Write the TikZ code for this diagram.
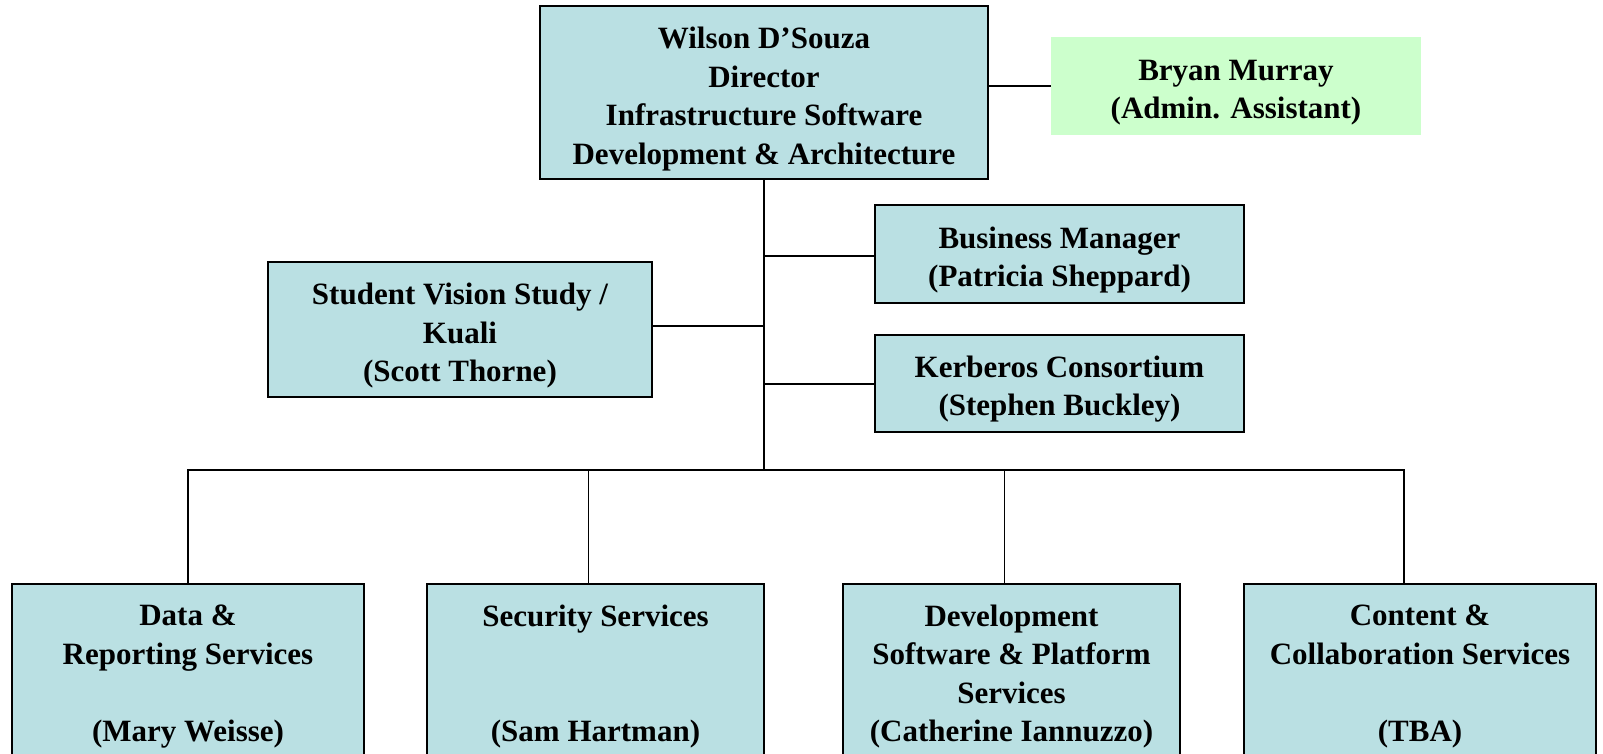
\documentclass[tikz,border=0pt]{standalone}
\usepackage{fontspec}
\setmainfont{Liberation Serif}
\definecolor{boxblue}{RGB}{186,224,227}
\definecolor{boxgreen}{RGB}{204,255,204}
\begin{document}
\begin{tikzpicture}[x=1pt,y=-1pt,
  every node/.style={inner sep=0pt, outer sep=0pt},
  orgbox/.style={draw=black, line width=2pt, fill=boxblue, anchor=north west},
  greenbox/.style={fill=boxgreen, anchor=north west},
  boxtext/.style={font=\fontsize{31}{38.5}\selectfont\bfseries, align=center},
  conn/.style={line width=2pt, draw=black},
  drop/.style={line width=1.6pt, draw=black}]
\useasboundingbox (0,0) rectangle (1603,754);
\clip (0,0) rectangle (1603,754);
% boxes
\node[orgbox, minimum width=448pt, minimum height=173pt] (dir) at (540,6) {};
\node[greenbox, minimum width=370pt, minimum height=98pt] (bryan) at (1051,37) {};
\node[orgbox, minimum width=369pt, minimum height=98pt] (bm) at (875,205) {};
\node[orgbox, minimum width=369pt, minimum height=97pt] (kerb) at (875,335) {};
\node[orgbox, minimum width=384pt, minimum height=135pt] (svs) at (268,262) {};
\node[orgbox, minimum width=352pt, minimum height=179pt] (data) at (12,584) {};
\node[orgbox, minimum width=337pt, minimum height=179pt] (sec) at (427,584) {};
\node[orgbox, minimum width=337pt, minimum height=179pt] (dev) at (843,584) {};
\node[orgbox, minimum width=352pt, minimum height=179pt] (cont) at (1244,584) {};
% texts
\node[boxtext] (dirt) at ([yshift=-6.5pt]dir.center) {Wilson D'Souza\\Director\\Infrastructure Software\\Development \& Architecture};
\node[boxtext] (bryant) at ([yshift=-6.5pt]bryan.center) {Bryan Murray\\(Admin. Assistant)};
\node[boxtext] (bmt) at ([yshift=-6pt]bm.center) {Business Manager\\(Patricia Sheppard)};
\node[boxtext] (kerbt) at ([yshift=-5.5pt]kerb.center) {Kerberos Consortium\\(Stephen Buckley)};
\node[boxtext] (svst) at ([yshift=-6.5pt]svs.center) {Student Vision Study /\\Kuali\\(Scott Thorne)};
\node[boxtext] (datat) at ([yshift=-3pt]data.center) {Data \&\\Reporting Services\\\\(Mary Weisse)};
\node[boxtext] (sect) at ([yshift=-3pt]sec.center) {Security Services\\\\\\(Sam Hartman)};
\node[boxtext] (devt) at ([yshift=-3pt]dev.center) {Development\\Software \& Platform\\Services\\(Catherine Iannuzzo)};
\node[boxtext] (contt) at ([yshift=-3pt]cont.center) {Content \&\\Collaboration Services\\\\(TBA)};
% connectors
\coordinate (bus) at (764,470);
\coordinate (d1) at (data.north);
\coordinate (d2) at ([xshift=-7pt]sec.north);
\coordinate (d3) at ([xshift=-7pt]dev.north);
\coordinate (d4) at ([xshift=-16pt]cont.north);
\coordinate (bmc) at ([yshift=-2pt]bm.west);
\coordinate (svc) at ([yshift=4pt]svs.east);
\draw[conn] (dir.east |- bryan.west) -- (bryan.west);
\draw[conn] (dir.south) -- (bus);
\draw[conn] (bmc) -- (bmc -| bus);
\draw[conn] (kerb.west) -- (kerb.west -| bus);
\draw[conn] (svc) -- (svc -| bus);
\draw[conn, line cap=rect] (d1 |- bus) -- (d4 |- bus);
\draw[drop] (d1 |- bus) -- (d1);
\draw[drop] (d2 |- bus) -- (d2);
\draw[drop] (d3 |- bus) -- (d3);
\draw[drop] (d4 |- bus) -- (d4);
\end{tikzpicture}
\end{document}
